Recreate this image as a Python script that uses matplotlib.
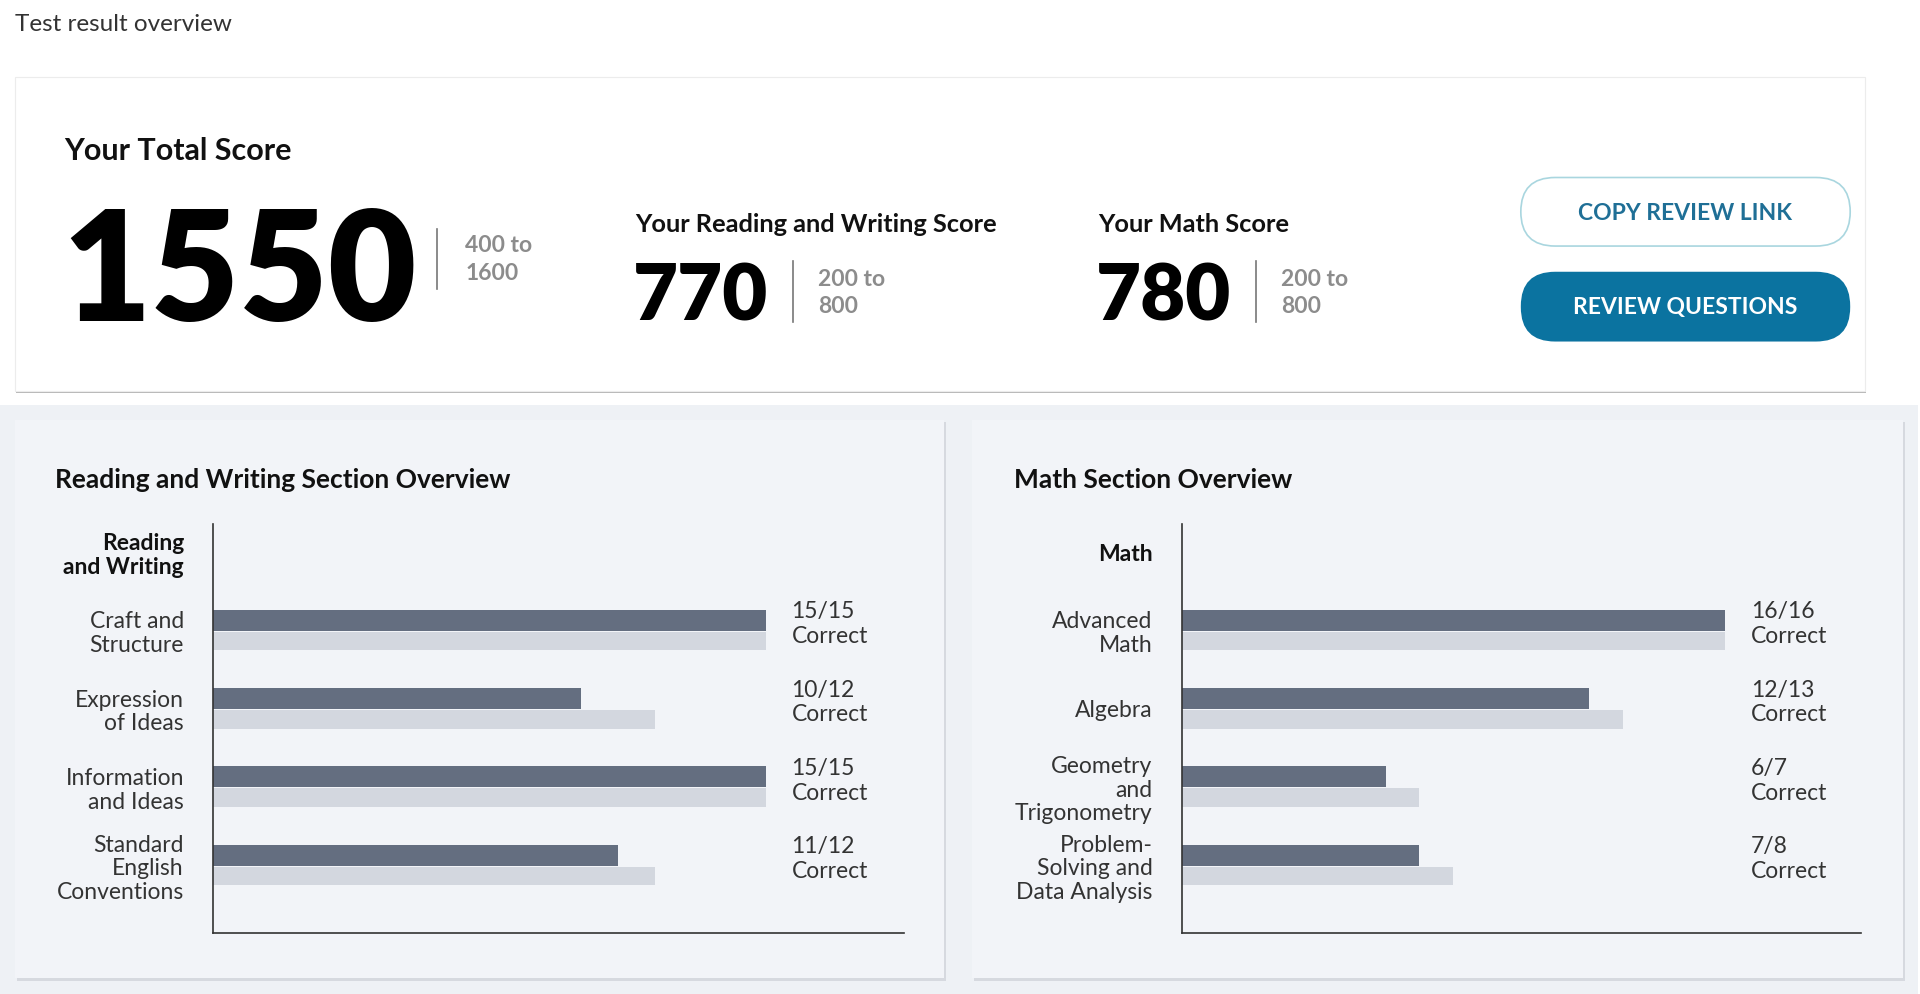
import matplotlib

matplotlib.use("Agg")
import matplotlib.pyplot as plt
from matplotlib.patches import FancyBboxPatch, Rectangle

plt.rcParams["font.family"] = ["Lato", "DejaVu Sans"]

# scores
total_score = 1550
total_range = "400 to\n1600"
rw_score = 770
math_score = 780
section_range = "200 to\n800"

# section overview data
rw_header = "Reading\nand Writing"
rw_categories = ["Craft and\nStructure", "Expression\nof Ideas", "Information\nand Ideas",
                 "Standard\nEnglish\nConventions"]
rw_correct = [15, 10, 15, 11]
rw_total = [15, 12, 15, 12]

math_header = "Math"
math_categories = ["Advanced\nMath", "Algebra", "Geometry\nand\nTrigonometry",
                   "Problem-\nSolving and\nData Analysis"]
math_correct = [16, 12, 6, 7]
math_total = [16, 13, 7, 8]

W, H = 1568, 812  # layout grid (scaled to 1920x994 output)
DARK = "#646e80"
LIGHT = "#d3d7df"
TEXT = "#333333"


def fx(x):
    return x / W


def fy(y):
    return 1 - y / H


fig = plt.figure(figsize=(19.2, 9.94), dpi=100)
fig.patch.set_facecolor("white")
page = fig.add_axes([0, 0, 1, 1], zorder=0)
page.set_xlim(0, W)
page.set_ylim(H, 0)
page.axis("off")

page.text(12, 20, "Test result overview", fontsize=17.5, color=TEXT, va="center", ha="left")

# top card
page.add_patch(Rectangle((13, 65), 1511, 256, facecolor="#b8b8b8", edgecolor="none"))
page.add_patch(Rectangle((12, 63), 1511, 256, facecolor="white", edgecolor="#ececec", lw=0.8))

page.text(52, 123, "Your Total Score", fontsize=22, fontweight="bold", color="#111111",
          va="center", ha="left")
page.text(51, 262, str(total_score), fontsize=110, fontweight="heavy", color="black",
          va="baseline", ha="left")
page.plot([357, 357], [187, 236], color="#777777", lw=1.2)
page.text(380, 212, total_range, fontsize=16.5, fontweight="bold", color="#8c8c8c",
          va="center", ha="left", linespacing=1.4)

for x0, label, score in [(519, "Your Reading and Writing Score", rw_score),
                         (897, "Your Math Score", math_score)]:
    page.text(x0, 183, label, fontsize=18.3, fontweight="bold", color="#111111",
              va="center", ha="left")
    page.text(x0 - 2, 262, str(score), fontsize=56, fontweight="heavy", color="black",
              va="baseline", ha="left")
    page.plot([x0 + 129, x0 + 129], [213, 263], color="#777777", lw=1.2)
    page.text(x0 + 149, 239, section_range, fontsize=16.5, fontweight="bold", color="#8c8c8c",
              va="center", ha="left", linespacing=1.35)

# buttons
page.add_patch(FancyBboxPatch((1242, 145), 269, 56, boxstyle="round,pad=0,rounding_size=28",
                              facecolor="white", edgecolor="#a9d6df", lw=1.2))
page.text(1376, 174, "COPY REVIEW LINK", fontsize=16.5, fontweight="bold", color="#1f6f96",
          va="center", ha="center")
page.add_patch(FancyBboxPatch((1242, 222), 269, 57, boxstyle="round,pad=0,rounding_size=28",
                              facecolor="#0b73a0", edgecolor="none"))
page.text(1376, 251, "REVIEW QUESTIONS", fontsize=16.5, fontweight="bold", color="white",
          va="center", ha="center")

# lower band and panels
page.add_patch(Rectangle((0, 331), 1566, H - 331, facecolor="#eef1f5", edgecolor="none"))
for x0, x1 in [(12, 771), (794, 1554)]:
    page.add_patch(Rectangle((x0 + 1.5, 345), x1 - x0, 456, facecolor="#d6d9df", edgecolor="none"))
    page.add_patch(Rectangle((x0, 343), x1 - x0, 456, facecolor="#f2f4f8", edgecolor="none"))

page.text(45, 392, "Reading and Writing Section Overview", fontsize=19, fontweight="bold",
          color="#111111", va="center", ha="left")
page.text(828, 392, "Math Section Overview", fontsize=19, fontweight="bold",
          color="#111111", va="center", ha="left")


def section_chart(left, right, header, categories, correct, total):
    top, bottom = 428, 762
    ax = fig.add_axes([fx(left), fy(bottom), fx(right - left), (bottom - top) / H], zorder=2)
    ax.set_facecolor("none")
    pos = list(range(1, len(categories) + 1))
    ax.barh([p - 0.13 for p in pos], correct, height=0.27, color=DARK)
    ax.barh([p + 0.135 for p in pos], total, height=0.235, color=LIGHT)
    xmax = max(total)
    ax.set_xlim(0, xmax * 1.25)
    ax.set_ylim(4.86, -0.36)
    for p, c, t in zip(pos, correct, total):
        ax.text(xmax + xmax * 0.047, p - 0.08, f"{c}/{t}\nCorrect", fontsize=16.5, color=TEXT,
                va="center", ha="left", linespacing=1.22)
    ax.set_yticks([0] + pos)
    ax.set_yticklabels([header] + categories, fontsize=16.5, color=TEXT, linespacing=1.15)
    ax.get_yticklabels()[0].set_fontweight("bold")
    ax.get_yticklabels()[0].set_color("#111111")
    ax.tick_params(axis="y", length=0, pad=21)
    ax.set_xticks([])
    for s in ("top", "right"):
        ax.spines[s].set_visible(False)
    for s in ("left", "bottom"):
        ax.spines[s].set_color("#333333")
        ax.spines[s].set_linewidth(1.2)
    return ax


section_chart(174, 738, rw_header, rw_categories, rw_correct, rw_total)
section_chart(965, 1520, math_header, math_categories, math_correct, math_total)

fig.savefig("out.png", dpi=100)
